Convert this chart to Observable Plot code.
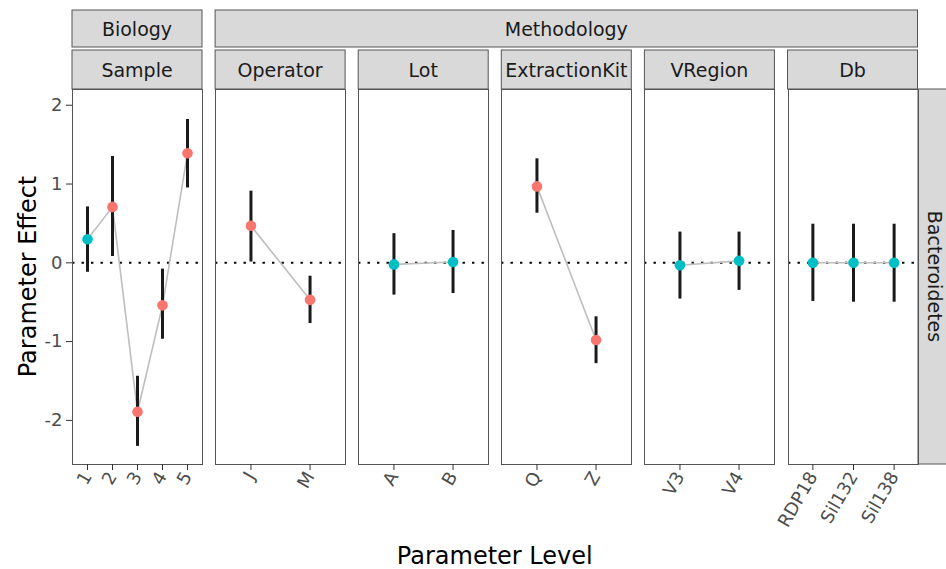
<!DOCTYPE html>
<html><head><meta charset="utf-8">
<script src="https://cdn.jsdelivr.net/npm/d3@7"></script>
<script src="https://cdn.jsdelivr.net/npm/@observablehq/plot@0.6"></script>
<style>
body{margin:0;background:#fff;}
#chart{position:relative;width:946px;height:569px;overflow:hidden;font-family:"DejaVu Sans",sans-serif;background:#fff;}
#chart svg{position:absolute;overflow:visible;}
</style></head><body><div id="chart"></div>
<script>
// ---- data ----
const panelNames = ["Sample","Operator","Lot","ExtractionKit","VRegion","Db"];
const panelGroup = ["Biology","Methodology","Methodology","Methodology","Methodology","Methodology"];
const rowStrip = "Bacteroidetes";
const panel = ["Sample","Sample","Sample","Sample","Sample","Operator","Operator","Lot","Lot","ExtractionKit","ExtractionKit","VRegion","VRegion","Db","Db","Db"];
const level = ["1","2","3","4","5","J","M","A","B","Q","Z","V3","V4","RDP18","Sil132","Sil138"];
const effect = [0.30,0.71,-1.89,-0.54,1.39,0.47,-0.47,-0.02,0.01,0.97,-0.98,-0.03,0.025,0,0,0];
const lower = [-0.12,0.08,-2.33,-0.97,0.95,0.01,-0.77,-0.41,-0.39,0.63,-1.28,-0.46,-0.35,-0.49,-0.50,-0.50];
const upper = [0.71,1.35,-1.44,-0.08,1.82,0.91,-0.17,0.37,0.41,1.32,-0.685,0.39,0.39,0.49,0.49,0.49];
const significant = [false,true,true,true,true,true,true,false,false,true,true,false,false,false,false,false];
const yTicks = [-2,-1,0,1,2];
const yTickLabels = ["-2","-1","0","1","2"];
const yDomain = [-2.56, 2.2];
const xTitle = "Parameter Level";
const yTitle = "Parameter Effect";

// ---- layout ----
const W = 946, H = 569;
const panelTop = 89, panelH = 375, panelW = 130, panelStep = 143.1, firstLeft = 72;
const strip1 = {top: 10, h: 37}, strip2 = {top: 50, h: 39};
const RED = "#F8766D", CYAN = "#00BFC4";
const FONT = "DejaVu Sans";

const chart = d3.select("#chart");
const base = chart.append("svg").attr("width", W).attr("height", H)
  .style("left", "0px").style("top", "0px")
  .attr("font-family", FONT);

function strip(x, y, w, h, label, rotate) {
  base.append("rect").attr("x", x).attr("y", y).attr("width", w).attr("height", h)
    .attr("fill", "#d9d9d9").attr("stroke", "#555").attr("stroke-width", 1);
  const t = base.append("text").attr("text-anchor", "middle").attr("dominant-baseline", "central")
    .attr("font-size", 19).attr("fill", "#1a1a1a").text(label);
  if (rotate) t.attr("transform", `translate(${x + w / 2 - 2},${y + h / 2}) rotate(90)`);
  else t.attr("x", x + w / 2).attr("y", y + h / 2);
}

// group strips (top row)
let i0 = 0;
for (let i = 1; i <= panelGroup.length; i++) {
  if (i === panelGroup.length || panelGroup[i] !== panelGroup[i0]) {
    const x0 = firstLeft + i0 * panelStep, x1 = firstLeft + (i - 1) * panelStep + panelW;
    strip(x0, strip1.top, x1 - x0, strip1.h, panelGroup[i0]);
    i0 = i;
  }
}
// panel strips
panelNames.forEach((name, i) => strip(firstLeft + i * panelStep, strip2.top, panelW, strip2.h, name));
// row strip
const lastRight = firstLeft + (panelNames.length - 1) * panelStep + panelW;
strip(lastRight + 0.5, panelTop, 38, panelH, rowStrip, true);

// titles
base.append("text").attr("x", (firstLeft + lastRight) / 2).attr("y", 564).attr("text-anchor", "middle")
  .attr("font-size", 24).attr("fill", "#000").text(xTitle);
base.append("text").attr("transform", `translate(35.5,${panelTop + panelH / 2}) rotate(-90)`)
  .attr("text-anchor", "middle").attr("font-size", 24).attr("fill", "#000").text(yTitle);

// panels
panelNames.forEach((name, i) => {
  const rows = d3.range(panel.length).filter(j => panel[j] === name)
    .map(j => ({level: level[j], effect: effect[j], lower: lower[j], upper: upper[j], sig: significant[j]}));
  const left = firstLeft + i * panelStep;
  const ml = i === 0 ? 72 : 2, mr = 2, mt = 1, mb = 100;
  const marks = [
    Plot.ruleY([0], {stroke: "#000", strokeWidth: 2, strokeDasharray: "2.4,7.1"}),
    Plot.line(rows, {x: "level", y: "effect", stroke: "#bebebe", strokeWidth: 1.6}),
    Plot.ruleX(rows, {x: "level", y1: "lower", y2: "upper", stroke: "#1a1a1a", strokeWidth: 3}),
    Plot.dot(rows.filter(d => d.sig), {x: "level", y: "effect", r: 5.3, fill: RED}),
    Plot.dot(rows.filter(d => !d.sig), {x: "level", y: "effect", r: 5.3, fill: CYAN}),
    Plot.frame({stroke: "#555", strokeWidth: 1}),
    Plot.axisX({tickRotate: -60, tickSize: 6, tickPadding: 3, fontSize: 18, fill: "#4d4d4d", stroke: "#333", label: null})
  ];
  if (i === 0) marks.push(Plot.axisY(yTicks, {
    tickSize: 6, tickPadding: 4, fontSize: 18, fill: "#4d4d4d", stroke: "#333", label: null,
    tickFormat: d => yTickLabels[yTicks.indexOf(d)]
  }));
  const svg = Plot.plot({
    width: ml + panelW + mr, height: mt + panelH + mb,
    marginTop: mt, marginLeft: ml, marginRight: mr, marginBottom: mb,
    x: {type: "point", domain: rows.map(d => d.level), padding: 0.6, round: false},
    y: i === 0 ? {domain: yDomain} : {domain: yDomain, axis: null},
    style: {fontFamily: FONT, background: "transparent", overflow: "visible"},
    marks
  });
  svg.style.position = "absolute";
  svg.style.left = (left - ml) + "px";
  svg.style.top = (panelTop - mt) + "px";
  document.getElementById("chart").appendChild(svg);
});
</script></body></html>
